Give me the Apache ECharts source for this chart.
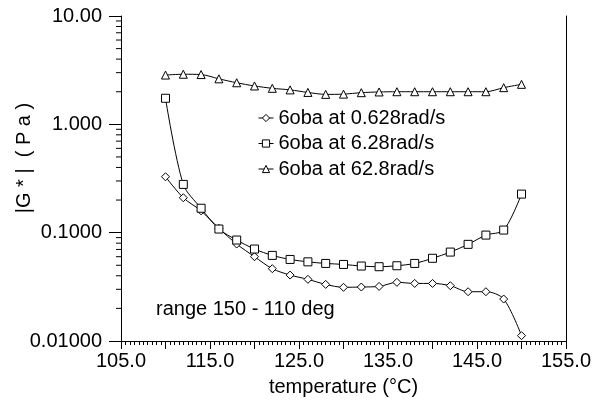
<!DOCTYPE html>
<html>
<head>
<meta charset="utf-8">
<script src="https://cdn.jsdelivr.net/npm/echarts@6/dist/echarts.min.js"></script>
<style>
html,body{margin:0;padding:0;background:#fff;}
#chart{width:600px;height:403px;}
</style>
</head>
<body>
<div id="chart"></div>
<script>
// ---- data ----
const temperatures = [110,112,114,116,118,120,122,124,126,128,130,132,134,136,138,140,142,144,146,148,150];
const g628 = [0.328,0.210,0.159,0.1096,0.0785,0.060,0.0465,0.0406,0.0371,0.0333,0.0313,0.0315,0.0319,0.0348,0.0340,0.0340,0.0324,0.0285,0.0285,0.0244,0.0112];
const g6_28 = [1.74,0.279,0.168,0.108,0.0855,0.0706,0.0617,0.0566,0.0538,0.0520,0.0509,0.0492,0.0485,0.0495,0.0520,0.0580,0.0662,0.0780,0.0950,0.1057,0.227];
const g62_8 = [2.85,2.90,2.88,2.63,2.42,2.26,2.15,2.08,1.97,1.89,1.90,1.96,1.99,2.00,2.00,2.00,2.00,2.00,2.00,2.18,2.34];
const seriesNames = ['6oba at 0.628rad/s','6oba at 6.28rad/s','6oba at 62.8rad/s'];
const yTickValues = [0.01,0.1,1,10];
const yTickLabels = ['0.01000','0.1000','1.000','10.00'];
const minorMultipliers = [2,3,4,5,6,7,8,9];
const minorDecades = [0.01,0.1,1];
const xLabelValues = [105,115,125,135,145,155];

const FONT = '"Liberation Sans", Arial, sans-serif';
const FS = 20;
const pair = arr => temperatures.map((t,i)=>[t,arr[i]]);

const minorVals = [];
minorDecades.forEach(d => minorMultipliers.forEach(m => minorVals.push([105, d*m])));

const chart = echarts.init(document.getElementById('chart'), null, {renderer:'canvas'});
const lineCommon = {
  type:'line', smooth:0.3, symbolSize:8,
  lineStyle:{color:'#000',width:1},
  itemStyle:{color:'#fff',borderColor:'#000',borderWidth:1},
  color:'#000', animation:false, z:3
};
chart.setOption({
  animation:false,
  backgroundColor:'#fff',
  grid:{left:121,right:34,top:16,bottom:62,containLabel:false},
  legend:{
    data:seriesNames, orient:'vertical', left:258, top:108, padding:0,
    itemWidth:15, itemHeight:9, itemGap:5.5,
    itemStyle:{color:'#fff',borderColor:'#000',borderWidth:1},
    lineStyle:{color:'#000',width:1},
    textStyle:{fontFamily:FONT,fontSize:FS,color:'#000'},
    inactiveColor:'#000'
  },
  xAxis:{
    type:'value', min:105, max:155, interval:5,
    name:'temperature (°C)', nameLocation:'middle', nameGap:36,
    nameTextStyle:{fontFamily:FONT,fontSize:FS,color:'#000'},
    axisLine:{lineStyle:{color:'#000',width:1}},
    axisTick:{show:true,length:8,lineStyle:{color:'#000'}},
    minorTick:{show:true,splitNumber:10,length:4,lineStyle:{color:'#000'}},
    splitLine:{show:false},
    axisLabel:{
      fontFamily:FONT,fontSize:FS,color:'#000',margin:10,
      showMinLabel:true,showMaxLabel:true,
      formatter:v => xLabelValues.indexOf(v) >= 0 ? v.toFixed(1) : ''
    }
  },
  yAxis:[{
    type:'log', logBase:10, min:0.01, max:10,
    axisLine:{show:true,lineStyle:{color:'#000',width:1}},
    axisTick:{show:true,length:12,lineStyle:{color:'#000'}},
    splitLine:{show:false},
    axisLabel:{
      fontFamily:FONT,fontSize:FS,color:'#000',margin:19,
      formatter:v => {
        for (let i=0;i<yTickValues.length;i++) if (Math.abs(v/yTickValues[i]-1)<1e-6) return yTickLabels[i];
        return '';
      }
    }
  },{
    type:'log', logBase:10, min:0.01, max:10, position:'right',
    axisLine:{show:true,lineStyle:{color:'#000',width:1}},
    axisTick:{show:false}, axisLabel:{show:false}, splitLine:{show:false}
  }],
  graphic:[
    {type:'text', left:156, top:299, style:{text:'range 150 - 110 deg', font:FS+'px '+FONT, fill:'#000'}},
    {type:'text', x:24, y:158, rotation:Math.PI/2,
     style:{text:'|G * |  ( P a )', font:FS+'px '+FONT, fill:'#000', align:'center', verticalAlign:'middle'}}
  ],
  series:[
    Object.assign({}, lineCommon, {name:seriesNames[0], symbol:'diamond', data:pair(g628)}),
    Object.assign({}, lineCommon, {name:seriesNames[1], symbol:'rect', data:pair(g6_28)}),
    Object.assign({}, lineCommon, {name:seriesNames[2], symbol:'triangle', data:pair(g62_8)}),
    {
      type:'custom', name:'minorTicks', clip:false, silent:true, animation:false,
      data:minorVals,
      renderItem:(params, api) => {
        const p = api.coord([api.value(0), api.value(1)]);
        return {type:'line', shape:{x1:p[0]-5,y1:p[1],x2:p[0],y2:p[1]}, style:{stroke:'#000',lineWidth:1}};
      }
    }
  ]
});
</script>
</body>
</html>
